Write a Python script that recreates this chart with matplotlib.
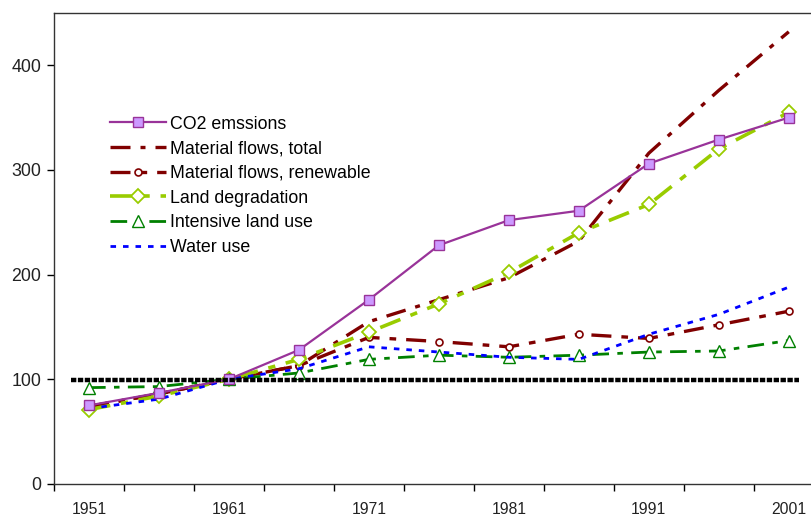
import matplotlib
matplotlib.use("Agg")
import matplotlib.pyplot as plt

plt.rcParams['font.family'] = ['Liberation Sans', 'DejaVu Sans']

# index values (1961 = 100), every 5 years
years = [1951, 1956, 1961, 1966, 1971, 1976, 1981, 1986, 1991, 1996, 2001]
co2 = [75, 87, 100, 128, 176, 228, 252, 261, 306, 329, 350]
mat_total = [74, 86, 100, 113, 155, 176, 197, 232, 316, 376, 432]
mat_renew = [74, 86, 100, 113, 140, 136, 131, 143, 139, 152, 165]
land_deg = [71, 84, 100, 119, 145, 172, 202, 240, 267, 320, 355]
intensive = [92, 93, 100, 106, 119, 123, 121, 123, 126, 127, 137]
water = [72, 81, 100, 110, 131, 126, 121, 119, 143, 162, 188]

# black reference line at the base year level
base_years = [1949.7, 2001.7]
base_vals = [99, 99]

label_years = [1951, 1961, 1971, 1981, 1991, 2001]

fig = plt.figure(figsize=(8.12, 5.17), dpi=100)
ax = fig.add_axes([0.0665, 0.064, 0.948, 0.911])

ax.plot(base_years, base_vals, color='black', lw=3.2,
        linestyle=(0, (1.2, 0.35)), zorder=5)

ax.plot(years, co2, color='#993399', lw=1.6, marker='s', ms=6.5,
        mfc='#CC99FF', mec='#993399', mew=1.0, label='CO2 emssions', zorder=4)
ax.plot(years, mat_total, color='#800000', lw=2.4,
        linestyle=(0, (6, 3, 1.5, 3)), label='Material flows, total', zorder=3)
ax.plot(years, mat_renew, color='#800000', lw=2.4,
        linestyle=(0, (6, 3, 2, 3)), marker='o', ms=5, mfc='white',
        mec='#800000', mew=1.2, label='Material flows, renewable', zorder=3)
ax.plot(years, land_deg, color='#99CC00', lw=2.6,
        linestyle=(0, (6, 3, 2, 3)), marker='D', ms=7.5, mfc='white',
        mec='#99CC00', mew=1.3, label='Land degradation', zorder=3)
ax.plot(years, intensive, color='#008000', lw=2.0,
        linestyle=(0, (6, 3, 2, 3)), marker='^', ms=9, mfc='white',
        mec='#008000', mew=1.0, label='Intensive land use', zorder=3)
ax.plot(years, water, color='#0000FF', lw=2.0,
        linestyle=(0, (2, 2.5)), label='Water use', zorder=3)

ax.set_xlim(1948.5, 2003.5)
ax.set_ylim(0, 450)
ax.set_yticks([0, 100, 200, 300, 400])
ax.set_xticks([1948.5 + 5 * i for i in range(12)])
ax.set_xticklabels([])
ax.set_xticks(label_years, minor=True)
ax.set_xticklabels([str(y) for y in label_years], minor=True)
ax.tick_params(axis='x', which='major', direction='out', length=5, width=1)
ax.tick_params(axis='x', which='minor', length=0, pad=13, labelsize=11.3,
               labelcolor='#222222')
ax.tick_params(axis='y', direction='out', length=5, width=1, labelsize=12.8,
               labelcolor='#222222', pad=4)
for s in ax.spines.values():
    s.set_color('#333333')
    s.set_linewidth(1.0)

ax.legend(loc='upper left', bbox_to_anchor=(0.063, 0.797), frameon=False,
          fontsize=12.8, handlelength=3.2, handletextpad=0.2,
          labelspacing=0.43, borderaxespad=0)

fig.savefig('out.png', dpi=100)
